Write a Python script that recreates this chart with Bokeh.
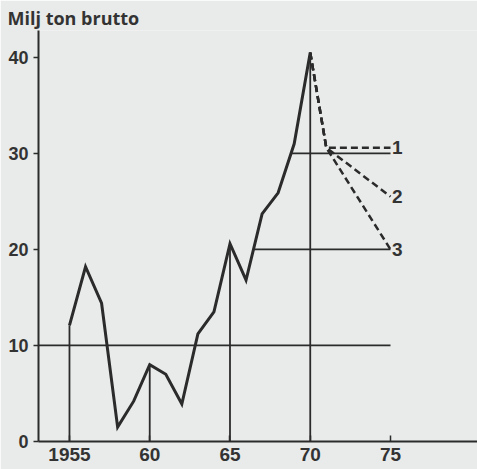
from bokeh.plotting import figure
from bokeh.models import Range1d, FixedTicker, ColumnDataSource
from bokeh.core.properties import value
from bokeh.embed import file_html
from bokeh.resources import INLINE
import numpy as np

# ---- data ----
years = [1955, 1956, 1957, 1958, 1959, 1960, 1961, 1962, 1963, 1964, 1965, 1966, 1967, 1968, 1969, 1970]
tonnage = [12.1, 18.2, 14.4, 1.5, 4.2, 8.0, 7.0, 3.9, 11.2, 13.5, 20.6, 16.8, 23.7, 25.9, 31.0, 40.5]

proj_labels = ["1", "2", "3"]
proj_break_year = 1971
proj_break_value = 30.6
proj_end_year = 1975
proj_end_values = [30.6, 25.5, 20.0]

drop_years = [1955, 1960, 1965, 1970]
ref_levels = [10, 20, 30]

x_ticks = [1955, 1960, 1965, 1970, 1975]
x_tick_labels = ["1955", "60", "65", "70", "75"]
y_ticks = [0, 10, 20, 30, 40]

BG = "#e9ebea"
INK = "#2b2b2b"
TXT = "#333333"
FONT = "Liberation Sans"

x0, x1 = 1953.07, 1980.42
y0, y1 = 0, 42.8

p = figure(width=477, height=469, output_backend="svg", toolbar_location=None,
           x_range=Range1d(x0, x1), y_range=Range1d(y0, y1),
           min_border_left=38, min_border_right=0, min_border_top=30, min_border_bottom=28,
           background_fill_color=BG, border_fill_color=BG)
p.outline_line_color = None
p.grid.visible = False

p.title.text = "Milj ton brutto"
p.title.text_font = "Open Sans"
p.title.text_font_size = "18px"
p.title.text_font_style = "bold"
p.title.text_color = TXT
p.title.standoff = 1
p.title.offset = -31

# axes
for ax in (p.xaxis[0], p.yaxis[0]):
    ax.axis_line_color = INK
    ax.axis_line_width = 2
    ax.major_tick_line_color = INK
    ax.major_tick_line_width = 1.5
    ax.minor_tick_line_color = None
    ax.major_label_text_font = FONT
    ax.major_label_text_font_style = "bold"
    ax.major_label_text_color = TXT

p.xaxis.ticker = FixedTicker(ticks=x_ticks)
p.xaxis.major_label_overrides = {t: l for t, l in zip(x_ticks, x_tick_labels)}
p.xaxis.major_tick_in = 6
p.xaxis.major_tick_out = 0
p.xaxis.major_label_standoff = 6
p.xaxis.major_label_text_font_size = "19px"

p.yaxis.ticker = FixedTicker(ticks=y_ticks)
p.yaxis.major_tick_in = 0
p.yaxis.major_tick_out = 5
p.yaxis.major_label_standoff = 5
p.yaxis.major_label_text_font_size = "18px"

# vertical drop lines from 0 up to the curve
drop_vals = [tonnage[years.index(y)] for y in drop_years]
p.segment(x0=drop_years, y0=[0] * len(drop_years), x1=drop_years, y1=drop_vals,
          line_color=INK, line_width=1.8)

# horizontal reference lines: 10 from the axis, 20 and 30 from the last crossing of the curve
yr = np.array(years, dtype=float)
tv = np.array(tonnage, dtype=float)
starts = []
for lev in ref_levels:
    if lev == ref_levels[0]:
        starts.append(x0)
    else:
        s = x0
        for i in range(len(yr) - 1):
            if tv[i] < lev <= tv[i + 1]:
                s = yr[i] + (lev - tv[i]) / (tv[i + 1] - tv[i])
        starts.append(s)
p.segment(x0=starts, y0=ref_levels, x1=[proj_end_year] * len(ref_levels), y1=ref_levels,
          line_color=INK, line_width=1.8)

# projections (dashed)
for end_v in proj_end_values:
    p.line([years[-1], proj_break_year, proj_end_year], [tonnage[-1], proj_break_value, end_v],
           line_color=INK, line_width=2.5, line_dash="7 4")

# main curve
p.line(years, tonnage, line_color=INK, line_width=3, line_join="miter")

# projection labels
src = ColumnDataSource(dict(x=[proj_end_year + 0.1] * 3, y=proj_end_values, t=proj_labels))
p.text(x="x", y="y", text="t", source=src, text_font=value(FONT), text_font_style="bold",
       text_font_size="19px", text_color=TXT, text_baseline="middle", text_align="left")

html = file_html(p, INLINE)
html = html.replace("<body>", '<body style="background-color:%s;">' % BG, 1)
open("out.html", "w").write(html)
